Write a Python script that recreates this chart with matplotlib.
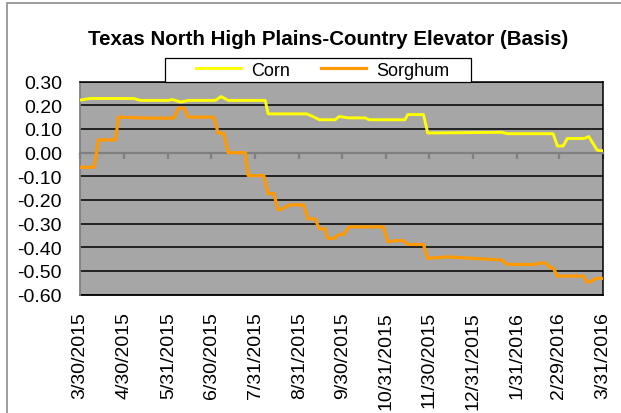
import pandas as pd
import matplotlib.pyplot as plt
import matplotlib.dates as mdates
from matplotlib.patches import Rectangle
from matplotlib.ticker import FormatStrFormatter, MultipleLocator

plt.rcParams['font.family'] = ['Liberation Sans', 'DejaVu Sans']
plt.rcParams['axes.unicode_minus'] = False

# Corn basis at its break points
corn_dates = ['3/30/2015', '4/6/2015', '5/7/2015', '5/11/2015', '5/31/2015', '6/3/2015',
              '6/9/2015', '6/14/2015', '7/3/2015', '7/7/2015', '7/12/2015', '8/7/2015',
              '8/9/2015', '9/5/2015', '9/9/2015', '9/14/2015', '9/25/2015', '9/28/2015',
              '10/4/2015', '10/16/2015', '10/19/2015', '11/13/2015', '11/15/2015', '11/26/2015',
              '11/29/2015', '1/20/2016', '1/24/2016', '2/25/2016', '2/28/2016', '3/3/2016',
              '3/6/2016', '3/18/2016', '3/21/2016', '3/27/2016', '3/31/2016']
corn_vals = [0.222, 0.229, 0.229, 0.221, 0.221, 0.224,
             0.214, 0.221, 0.221, 0.237, 0.221, 0.221,
             0.164, 0.164, 0.154, 0.139, 0.139, 0.153,
             0.147, 0.147, 0.139, 0.139, 0.161, 0.161,
             0.083, 0.086, 0.080, 0.080, 0.028, 0.028,
             0.060, 0.060, 0.068, 0.010, 0.008]

# Sorghum basis
sorg_dates = ['3/30/2015', '4/9/2015', '4/12/2015', '4/24/2015', '4/26/2015', '5/18/2015',
              '6/4/2015', '6/7/2015', '6/11/2015', '6/14/2015', '7/2/2015', '7/5/2015',
              '7/9/2015', '7/12/2015', '7/24/2015', '7/26/2015', '8/6/2015', '8/9/2015',
              '8/13/2015', '8/16/2015', '8/18/2015', '8/24/2015', '9/3/2015', '9/6/2015',
              '9/11/2015', '9/14/2015', '9/18/2015', '9/20/2015', '9/24/2015', '9/28/2015',
              '10/1/2015', '10/5/2015', '10/29/2015', '11/1/2015', '11/7/2015', '11/12/2015',
              '11/15/2015', '11/26/2015', '11/29/2015', '12/13/2015', '1/20/2016', '1/24/2016',
              '2/12/2016', '2/16/2016', '2/20/2016', '2/23/2016', '2/25/2016', '2/28/2016',
              '3/17/2016', '3/20/2016', '3/22/2016', '3/26/2016', '3/31/2016']
sorg_vals = [-0.062, -0.062, 0.054, 0.054, 0.150, 0.146,
             0.146, 0.188, 0.188, 0.150, 0.150, 0.082,
             0.082, 0.0, 0.0, -0.097, -0.097, -0.173,
             -0.173, -0.241, -0.241, -0.221, -0.221, -0.280,
             -0.280, -0.322, -0.322, -0.363, -0.363, -0.346,
             -0.346, -0.314, -0.314, -0.377, -0.372, -0.372,
             -0.388, -0.388, -0.447, -0.441, -0.454, -0.473,
             -0.473, -0.467, -0.467, -0.487, -0.487, -0.522,
             -0.522, -0.547, -0.547, -0.532, -0.532]

tick_labels = ['3/30/2015', '4/30/2015', '5/31/2015', '6/30/2015', '7/31/2015', '8/31/2015',
               '9/30/2015', '10/31/2015', '11/30/2015', '12/31/2015', '1/31/2016', '2/29/2016',
               '3/31/2016']

corn_x = mdates.date2num(pd.to_datetime(corn_dates, format='%m/%d/%Y'))
sorg_x = mdates.date2num(pd.to_datetime(sorg_dates, format='%m/%d/%Y'))
tick_x = mdates.date2num(pd.to_datetime(tick_labels, format='%m/%d/%Y'))

W, H = 621, 414
fig = plt.figure(figsize=(W / 100, H / 100), dpi=100)
ax = fig.add_axes([80 / W, 1 - 295.5 / H, (603 - 80) / W, (295.5 - 82.7) / H])
ax.set_facecolor('#A6A6A6')

# outer chart border
fig.patches.append(Rectangle((6.5 / W, -0.1), 2, 1.1 - 3.5 / H, transform=fig.transFigure,
                             fill=False, edgecolor='#8C8C8C', linewidth=1.2))

ax.plot(corn_x, corn_vals, color='#FFFF00', lw=2.1, zorder=3, label='Corn')
ax.plot(sorg_x, sorg_vals, color='#FF9900', lw=2.3, zorder=3, label='Sorghum')

ax.set_xlim(tick_x[0], tick_x[-1])
ax.set_ylim(-0.6, 0.3)
ax.yaxis.set_major_locator(MultipleLocator(0.1))
ax.yaxis.set_major_formatter(FormatStrFormatter('%.2f'))
ax.set_axisbelow(True)
ax.grid(axis='y', color='black', lw=1.1)
ax.tick_params(axis='y', length=0, pad=13, labelsize=14)

# category axis crosses at zero
ax.spines['bottom'].set_position(('data', 0))
ax.spines['bottom'].set_color('#808080')
ax.spines['bottom'].set_linewidth(1.6)
ax.set_xticks(tick_x)
ax.tick_params(axis='x', direction='out', length=4.5, width=1.6, color='#808080', labelbottom=False)
ax.spines['left'].set_color('#808080')
ax.spines['left'].set_linewidth(1.3)
for s in ['top', 'right']:
    ax.spines[s].set_color('black')
    ax.spines[s].set_linewidth(1.1)

sec = ax.secondary_xaxis(0)
sec.set_xticks(tick_x, tick_labels, rotation=90)
sec.tick_params(length=0, pad=12, labelsize=14)
sec.spines['bottom'].set_color('black')
sec.spines['bottom'].set_linewidth(1.3)

fig.text(328 / W, 1 - 39.6 / H, 'Texas North High Plains-Country Elevator (Basis)',
         ha='center', va='center', fontsize=14.8, fontweight='bold')

# legend box
fig.patches.append(Rectangle((165 / W, 1 - 82.7 / H), (471 - 165) / W, (82.7 - 59.4) / H,
                             transform=fig.transFigure, facecolor='white',
                             edgecolor='black', linewidth=0.9, zorder=5))
leg = fig.legend(loc='center', bbox_to_anchor=(322.5 / W, 1 - 71 / H), ncol=2, frameon=False,
                 fontsize=13, handlelength=2.5, handletextpad=0.55, columnspacing=1.7)
leg.set_zorder(6)

fig.savefig('out.png', dpi=100)
